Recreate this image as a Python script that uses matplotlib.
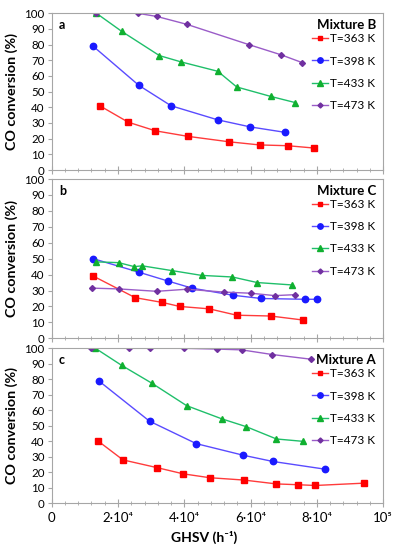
import matplotlib
matplotlib.use("Agg")
import matplotlib.pyplot as plt
from matplotlib.ticker import MultipleLocator, FixedLocator
from matplotlib.transforms import offset_copy

plt.rcParams['font.family'] = ['Lato', 'DejaVu Sans']

temps = ["T=363 K", "T=398 K", "T=433 K", "T=473 K"]
panel_letters = ["a", "b", "c"]
mixtures = ["Mixture B", "Mixture C", "Mixture A"]

# Panel a (Mixture B)
a_363_x = [14500, 23100, 31300, 41000, 53500, 62700, 71200, 79200]
a_363_y = [41, 30.5, 25, 21.5, 18, 16, 15.5, 14]
a_398_x = [12500, 26300, 36000, 50100, 59900, 70500]
a_398_y = [79, 54, 41, 32, 27.5, 24]
a_433_x = [13500, 21100, 32500, 39000, 50100, 55800, 66000, 73500]
a_433_y = [100, 88.5, 73, 69, 63, 53, 47, 43]
a_473_x = [13400, 26000, 31700, 40700, 59500, 69200, 75600]
a_473_y = [100, 100, 98, 93, 80, 73.5, 68.5]

# Panel b (Mixture C)
b_363_x = [12600, 25200, 33400, 38600, 47500, 55800, 66000, 75700]
b_363_y = [39, 25.5, 22.5, 20, 18.5, 14.5, 14, 11.5]
b_398_x = [12500, 26300, 35000, 42300, 54800, 63200, 76300, 80000]
b_398_y = [50, 41.5, 36, 31.5, 27, 25, 24.5, 24.5]
b_433_x = [13300, 20200, 24900, 27300, 36300, 45200, 54500, 62000, 72500]
b_433_y = [48, 47.5, 45, 45.5, 42.5, 39.5, 38.5, 35, 33.5]
b_473_x = [12100, 20300, 31700, 40700, 52000, 60100, 67300, 73400]
b_473_y = [31.5, 31, 29.5, 30.8, 29, 28.3, 26.8, 27.4]

# Panel c (Mixture A)
c_363_x = [14100, 21500, 31800, 39700, 47700, 58000, 67800, 74200, 79500, 94200]
c_363_y = [40, 28, 23, 19, 16.5, 15, 12.5, 12, 11.5, 13]
c_398_x = [14200, 29500, 43600, 57800, 66700, 82500]
c_398_y = [79, 53, 38.5, 31, 27, 22]
c_433_x = [13200, 21100, 30200, 40700, 51300, 58600, 67800, 75700]
c_433_y = [100, 89, 77.5, 63, 54.5, 49.5, 41.5, 40]
c_473_x = [12000, 23300, 29800, 40000, 50000, 57300, 66500, 78100]
c_473_y = [100, 100, 100, 100, 99.5, 99, 96, 93]

xtick_vals = [0, 20000, 40000, 60000, 80000, 100000]
xtick_labels = ["0", "2·10⁴", "4·10⁴", "6·10⁴", "8·10⁴", "10⁵"]

panels = [
    [(a_363_x, a_363_y), (a_398_x, a_398_y), (a_433_x, a_433_y), (a_473_x, a_473_y)],
    [(b_363_x, b_363_y), (b_398_x, b_398_y), (b_433_x, b_433_y), (b_473_x, b_473_y)],
    [(c_363_x, c_363_y), (c_398_x, c_398_y), (c_433_x, c_433_y), (c_473_x, c_473_y)],
]

styles = [
    dict(color='#FF3B3B', marker='s', markersize=4.2, markerfacecolor='#FF0000', markeredgecolor='#FF0000'),
    dict(color='#5A4BFF', marker='o', markersize=4.6, markerfacecolor='#1A1AFF', markeredgecolor='#1A1AFF'),
    dict(color='#1FBF6A', marker='^', markersize=4.6, markerfacecolor='#10B030', markeredgecolor='#10B030'),
    dict(color='#9A5CC8', marker='D', markersize=3, markerfacecolor='#7030A0', markeredgecolor='#7030A0'),
]

fig = plt.figure(figsize=(3.98, 5.5), dpi=100)
rects = [
    [0.1299, 0.6909, 0.833, 0.2849],
    [0.1299, 0.3849, 0.833, 0.2896],
    [0.1299, 0.0849, 0.833, 0.2818],
]
spine_col = '#A6A6A6'
for i, rect in enumerate(rects):
    ax = fig.add_axes(rect)
    for (xs, ys), lab, st in zip(panels[i], temps, styles):
        ax.plot(xs, ys, label=lab, linewidth=1.0, **st)
    ax.set_xlim(0, 100000)
    ax.set_ylim(0, 100)
    ax.yaxis.set_major_locator(MultipleLocator(10))
    ax.xaxis.set_major_locator(FixedLocator(xtick_vals))
    ax.xaxis.set_minor_locator(MultipleLocator(4000))
    for s in ax.spines.values():
        s.set_color(spine_col)
        s.set_linewidth(0.8)
    ax.tick_params(axis='y', which='major', length=3, color=spine_col, labelsize=8.3, pad=2)
    ax.tick_params(axis='x', which='major', direction='inout', length=6, color=spine_col, labelsize=10)
    ax.tick_params(axis='x', which='minor', direction='inout', length=3, color=spine_col)
    if i < 2:
        ax.set_xticklabels([])
    else:
        ax.set_xticklabels(xtick_labels, family=['Lato', 'DejaVu Sans'], fontsize=9.5)
        ax.set_xlabel("GHSV (h⁻¹)", fontsize=10, fontweight='bold')
        ax.xaxis.set_label_coords(0.46, -0.217)
        ax.xaxis.label.set_va('center')
    ax.set_ylabel("CO conversion (%)", fontsize=10.3, fontweight='bold', labelpad=5)
    ax.text(0.022, 0.965, panel_letters[i], transform=ax.transAxes, fontsize=9,
            fontweight='bold', va='top', ha='left')
    ax.text(1, 1, mixtures[i], transform=offset_copy(ax.transAxes, fig, x=-7, y=-12, units='dots'),
            ha='right', va='center', fontsize=9.5, fontweight='bold')
    ax.legend(loc='upper right', frameon=False, fontsize=8.5,
              bbox_to_anchor=(1, 1),
              bbox_transform=offset_copy(ax.transAxes, fig, x=-8, y=-20, units='dots'),
              handlelength=1.3, handletextpad=0.2, labelspacing=0.95,
              borderaxespad=0, borderpad=0, markerscale=0.85)

fig.savefig("out.png", dpi=100)
